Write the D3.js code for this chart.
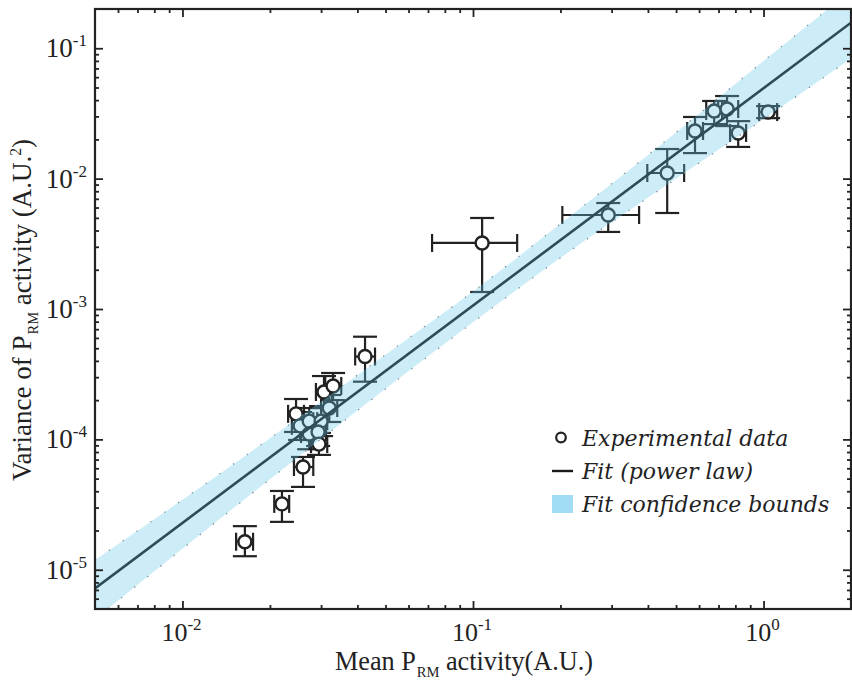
<!DOCTYPE html>
<html>
<head>
<meta charset="utf-8">
<script src="https://cdn.jsdelivr.net/npm/d3@7"></script>
<style>
  html, body { margin: 0; padding: 0; background: #fff; }
  svg { display: block; }
</style>
</head>
<body>
<svg id="chart" width="852" height="683"></svg>
<script>
// Mean and variance of P_RM activity per sample, with error ranges (A.U.)
const meanX   = [0.0164, 0.0220, 0.0260, 0.0307, 0.0330, 0.0246, 0.0254, 0.0273, 0.0300, 0.0320, 0.0273, 0.0293, 0.0295, 0.0425, 0.1075, 0.292, 0.466, 0.581, 0.676, 0.749, 0.818, 1.037];
const meanXLo = [0.0153, 0.0207, 0.0242, 0.0288, 0.0310, 0.0231, 0.0238, 0.0256, 0.0282, 0.0300, 0.0256, 0.0275, 0.0277, 0.0393, 0.0723, 0.203, 0.398, 0.546, 0.635, 0.698, 0.767, 0.966];
const meanXHi = [0.0175, 0.0233, 0.0282, 0.0327, 0.0352, 0.0262, 0.0271, 0.0291, 0.0315, 0.0341, 0.0291, 0.0312, 0.0315, 0.0460, 0.1419, 0.373, 0.533, 0.619, 0.720, 0.818, 0.871, 1.114];
const varY    = [1.64e-5, 3.20e-5, 6.14e-5, 2.31e-4, 2.57e-4, 1.57e-4, 1.27e-4, 1.38e-4, 1.38e-4, 1.74e-4, 1.10e-4, 1.14e-4, 9.2e-5, 4.32e-4, 3.21e-3, 5.26e-3, 0.01104, 0.0232, 0.0330, 0.0342, 0.0224, 0.0324];
const varYLo  = [1.27e-5, 2.33e-5, 4.32e-5, 1.74e-4, 2.00e-4, 1.14e-4, 9.9e-5, 1.06e-4, 1.06e-4, 1.36e-4, 8.4e-5, 8.9e-5, 7.6e-5, 2.77e-4, 1.35e-3, 3.90e-3, 0.00545, 0.0157, 0.0262, 0.0253, 0.0175, 0.0291];
const varYHi  = [2.16e-5, 4.02e-5, 7.33e-5, 3.06e-4, 3.23e-4, 2.04e-4, 1.62e-4, 1.74e-4, 1.80e-4, 2.19e-4, 1.43e-4, 1.43e-4, 1.12e-4, 6.13e-4, 4.99e-3, 6.50e-3, 0.01687, 0.0297, 0.0394, 0.0430, 0.0276, 0.0360];

// Power-law fit line and its confidence bounds
const fitX   = [0.005, 2];
const fitY   = [7.2e-6, 0.157];
const bandX  = [0.005, 0.01, 0.02, 0.05, 0.1, 0.2, 0.5, 1, 2];
const bandLo = [4.18e-6, 1.45e-5, 4.94e-5, 2.44e-4, 7.9e-4, 2.47e-3, 0.0100, 0.0286, 0.0834];
const bandHi = [1.19e-5, 3.44e-5, 1.02e-4, 4.46e-4, 1.36e-3, 4.5e-3, 0.0226, 0.0798, 0.277];

// Axis ticks
const xMajor = [0.01, 0.1, 1];
const xTickExp = ["-2", "-1", "0"];
const yMajor = [1e-5, 1e-4, 1e-3, 1e-2, 1e-1];
const yTickExp = ["-5", "-4", "-3", "-2", "-1"];

const legendLabels = ["Experimental data", "Fit (power law)", "Fit confidence bounds"];

const svg = d3.select("#chart");
const L = 95, R = 851, T = 9, B = 609;
const x = d3.scaleLog().domain([0.005, 2]).range([L, R]);
const y = d3.scaleLog().domain([5e-6, 0.2]).range([B, T]);

const ink = "#222";
const serif = "'Liberation Serif', 'Times New Roman', serif";

svg.append("defs").append("clipPath").attr("id", "plot")
  .append("rect").attr("x", L).attr("y", T).attr("width", R - L).attr("height", B - T);

const plot = svg.append("g").attr("clip-path", "url(#plot)");

// error bars and markers
const pts = meanX.map((m, i) => ({x: m, xl: meanXLo[i], xh: meanXHi[i], y: varY[i], yl: varYLo[i], yh: varYHi[i]}));
const eb = plot.append("g").attr("stroke", ink).attr("stroke-width", 2.2).attr("fill", "none");
pts.forEach(d => {
  const cx = x(d.x), cy = y(d.y);
  eb.append("line").attr("x1", cx).attr("x2", cx).attr("y1", y(d.yl)).attr("y2", y(d.yh));
  eb.append("line").attr("x1", cx - 12).attr("x2", cx + 12).attr("y1", y(d.yl)).attr("y2", y(d.yl));
  eb.append("line").attr("x1", cx - 12).attr("x2", cx + 12).attr("y1", y(d.yh)).attr("y2", y(d.yh));
  eb.append("line").attr("x1", x(d.xl)).attr("x2", x(d.xh)).attr("y1", cy).attr("y2", cy);
  eb.append("line").attr("x1", x(d.xl)).attr("x2", x(d.xl)).attr("y1", cy - 9).attr("y2", cy + 9);
  eb.append("line").attr("x1", x(d.xh)).attr("x2", x(d.xh)).attr("y1", cy - 9).attr("y2", cy + 9);
});
plot.append("g").selectAll("circle").data(pts).join("circle")
  .attr("cx", d => x(d.x)).attr("cy", d => y(d.y)).attr("r", 6.5)
  .attr("fill", "#fff").attr("stroke", ink).attr("stroke-width", 2.4);

// fit line
plot.append("path")
  .datum(fitX.map((v, i) => [v, fitY[i]]))
  .attr("d", d3.line().x(d => x(d[0])).y(d => y(d[1])))
  .attr("fill", "none").attr("stroke", "#111").attr("stroke-width", 2.6);

// confidence band, translucent over everything beneath
const band = bandX.map((v, i) => ({x: v, lo: bandLo[i], hi: bandHi[i]}));
plot.append("path").datum(band)
  .attr("d", d3.area().curve(d3.curveMonotoneX).x(d => x(d.x)).y0(d => y(d.lo)).y1(d => y(d.hi)))
  .attr("fill", "rgb(100,200,235)").attr("fill-opacity", 0.33);
["lo", "hi"].forEach(k => {
  plot.append("path").datum(band)
    .attr("d", d3.line().curve(d3.curveMonotoneX).x(d => x(d.x)).y(d => y(d[k])))
    .attr("fill", "none").attr("stroke", "#7d8c92").attr("stroke-width", 1.3)
    .attr("stroke-dasharray", "1.3 15.5");
});

// ticks on all four sides, pointing inward
const xMinor = [], yMinor = [];
for (let e = -3; e <= 0; e++) for (let m = 2; m <= 9; m++) { const v = m * Math.pow(10, e); if (v > 0.005 && v < 2) xMinor.push(v); }
for (let e = -6; e <= -1; e++) for (let m = 2; m <= 9; m++) { const v = m * Math.pow(10, e); if (v > 5e-6 && v < 0.2) yMinor.push(v); }

function tickAxis(axis, sel) {
  sel.call(axis);
  sel.select(".domain").remove();
  sel.selectAll("text").remove();
  sel.selectAll("line").attr("stroke", ink).attr("stroke-width", 1.8);
}
const axes = svg.append("g");
[[xMajor, 8], [xMinor, 4]].forEach(([vals, s]) => {
  tickAxis(d3.axisBottom(x).tickValues(vals).tickSize(-s).tickSizeOuter(0), axes.append("g").attr("transform", `translate(0,${B})`));
  tickAxis(d3.axisTop(x).tickValues(vals).tickSize(-s).tickSizeOuter(0), axes.append("g").attr("transform", `translate(0,${T})`));
});
[[yMajor, 8], [yMinor, 4]].forEach(([vals, s]) => {
  tickAxis(d3.axisLeft(y).tickValues(vals).tickSize(-s).tickSizeOuter(0), axes.append("g").attr("transform", `translate(${L},0)`));
  tickAxis(d3.axisRight(y).tickValues(vals).tickSize(-s).tickSizeOuter(0), axes.append("g").attr("transform", `translate(${R},0)`));
});

// frame
svg.append("rect").attr("x", L).attr("y", T).attr("width", R - L).attr("height", B - T)
  .attr("fill", "none").attr("stroke", ink).attr("stroke-width", 2.2);

// tick labels as powers of ten
const labelG = svg.append("g").attr("font-family", serif).attr("fill", "#222");
xMajor.forEach((v, i) => {
  const t = labelG.append("text").attr("x", x(v) - 1).attr("y", B + 32).attr("text-anchor", "middle").attr("font-size", 26);
  t.append("tspan").text("10");
  t.append("tspan").attr("dy", -11).attr("font-size", 17).text(xTickExp[i]);
});
yMajor.forEach((v, i) => {
  const t = labelG.append("text").attr("x", 87).attr("y", y(v) + 9).attr("text-anchor", "end").attr("font-size", 27);
  t.append("tspan").text("10");
  t.append("tspan").attr("dy", -11).attr("font-size", 17).text(yTickExp[i]);
});

// axis titles
const xt = labelG.append("text").attr("x", 335).attr("y", 670).attr("font-size", 27)
  .attr("textLength", 258).attr("lengthAdjust", "spacingAndGlyphs");
xt.append("tspan").text("Mean P");
xt.append("tspan").attr("dx", 1).attr("dy", 7).attr("font-size", 15).text("RM");
xt.append("tspan").attr("dy", -7).text(" activity(A.U.)");

const yt = labelG.append("text").attr("transform", "translate(31,481) rotate(-90)").attr("font-size", 28)
  .attr("textLength", 342).attr("lengthAdjust", "spacingAndGlyphs");
yt.append("tspan").text("Variance of P");
yt.append("tspan").attr("dx", 1).attr("dy", 7).attr("font-size", 15).text("RM");
yt.append("tspan").attr("dy", -7).text(" activity (A.U.");
yt.append("tspan").attr("dy", -10).attr("font-size", 16).text("2");
yt.append("tspan").attr("dy", 10).text(")");

// legend
const lg = svg.append("g").attr("font-family", "'DejaVu Serif', serif").attr("font-style", "italic")
  .attr("font-size", 22).attr("fill", "#222");
const rowY = [437.5, 471, 504];
lg.append("circle").attr("cx", 561).attr("cy", rowY[0]).attr("r", 4.8)
  .attr("fill", "#fff").attr("stroke", ink).attr("stroke-width", 2.2);
lg.append("line").attr("x1", 552).attr("x2", 573).attr("y1", rowY[1]).attr("y2", rowY[1])
  .attr("stroke", "#1a1a1a").attr("stroke-width", 2.4);
lg.append("rect").attr("x", 552).attr("y", rowY[2] - 9).attr("width", 21).attr("height", 18)
  .attr("fill", "#a2dcf4");
legendLabels.forEach((s, i) => {
  lg.append("text").attr("x", 582).attr("y", rowY[i] + 8).text(s);
});
</script>
</body>
</html>
